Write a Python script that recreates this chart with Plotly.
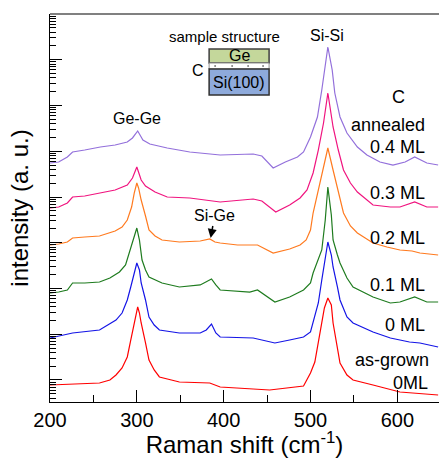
import numpy as np
import plotly.graph_objects as go

# ---- data (Raman shift in cm^-1, log10 of intensity in a.u.) ----
shift_04 = [200,210,220,226,240,258,275,289,295,301,305,307,315,335,361,396,434,444,457,471,485,492,500,508,513,517,520,525,528,534,542,554,565,580,595,609,620,634,647]
logI_04 = [4.743,4.765,4.874,4.984,5.027,5.093,5.137,5.202,5.290,5.443,5.311,5.246,5.158,5.071,4.984,4.918,4.940,4.896,4.634,4.765,4.874,4.984,5.311,5.749,6.339,6.842,7.279,6.776,6.273,5.749,5.399,5.093,4.918,4.765,4.699,4.765,4.874,4.743,4.699]

shift_03 = [200,210,220,226,240,258,275,289,295,300,305,310,321,335,361,396,434,444,460,476,488,496,503,509,515,520,526,532,538,546,554,572,592,603,620,634,647]
logI_03 = [3.760,3.781,3.869,4.000,4.022,4.087,4.153,4.262,4.415,4.656,4.372,4.240,4.109,4.000,3.978,3.891,3.956,3.913,3.672,3.825,3.978,4.153,4.525,5.027,5.617,6.273,5.530,5.027,4.590,4.306,4.109,3.825,3.781,3.781,3.891,3.781,3.781]

shift_02 = [200,210,220,226,240,257,275,283,289,294,297,300,302,305,310,314,321,329,349,373,384,390,396,416,439,457,476,488,495,500,503,509,515,520,526,532,538,546,554,572,588,603,617,626,637,647]
logI_02 = [2.951,2.973,3.016,3.104,3.126,3.148,3.257,3.344,3.497,3.781,4.087,4.306,4.197,3.934,3.585,3.279,3.148,3.060,3.016,3.038,3.082,3.016,2.995,2.951,2.951,2.776,2.863,2.951,3.060,3.279,3.650,4.153,4.656,5.071,4.590,4.109,3.650,3.366,3.213,2.995,2.907,2.842,2.820,2.776,2.754,2.732]

shift_01 = [200,210,220,226,240,257,269,280,287,291,295,300,303,306,310,314,329,349,373,380,386,391,396,430,439,459,476,492,500,503,509,513,517,520,524,526,531,534,542,549,572,592,603,620,634,647]
logI_01 = [1.902,1.923,1.967,2.120,2.120,2.142,2.230,2.361,2.514,2.776,3.016,3.322,3.060,2.623,2.404,2.251,2.120,2.033,2.077,2.142,2.208,2.077,1.967,1.923,1.967,1.705,1.814,1.967,2.120,2.339,2.623,2.842,3.497,4.219,3.607,3.060,2.732,2.557,2.230,2.033,1.814,1.683,1.705,1.814,1.705,1.705]

shift_00 = [200,226,257,276,283,289,293,297,300,303,305,310,314,320,326,349,373,380,386,391,396,434,459,476,492,500,503,509,513,517,520,524,526,531,534,542,549,572,592,614,626,647]
logI_00 = [0.918,1.027,1.093,1.311,1.464,1.749,2.033,2.339,2.557,2.404,2.120,1.749,1.377,1.202,1.093,1.027,1.027,1.093,1.224,1.027,0.940,0.918,0.809,0.874,0.940,1.049,1.246,1.683,2.186,2.623,3.016,2.732,2.470,2.033,1.749,1.377,1.246,1.049,0.918,0.831,0.809,0.721]

shift_ag = [200,257,269,276,283,289,293,297,301,303,305,310,314,320,326,349,373,384,396,453,492,500,505,511,516,520,524,526,530,534,542,549,572,603,647]
logI_ag = [-0.109,-0.066,0.000,0.109,0.262,0.503,0.874,1.246,1.596,1.464,1.246,0.809,0.437,0.219,0.066,-0.044,-0.066,-0.066,-0.153,-0.219,-0.131,0.153,0.393,1.027,1.574,1.792,1.639,1.246,0.765,0.372,0.109,0.000,-0.109,-0.262,-0.328]

series = [
    ("C annealed 0.4 ML", shift_04, logI_04, "#9370DB"),
    ("C annealed 0.3 ML", shift_03, logI_03, "#F0147F"),
    ("C annealed 0.2 ML", shift_02, logI_02, "#FF7A1F"),
    ("C annealed 0.1 ML", shift_01, logI_01, "#1E7B1E"),
    ("C annealed 0 ML", shift_00, logI_00, "#1414E6"),
    ("as-grown 0ML", shift_ag, logI_ag, "#FF0000"),
]

FONT = "Liberation Sans, Arial, sans-serif"

fig = go.Figure()
for name, xs, ls, col in series:
    fig.add_trace(go.Scatter(x=xs, y=10 ** np.array(ls), mode="lines", name=name,
                             line=dict(color=col, width=1.2), showlegend=False))

L, R, T, B = 49.8, 0, 14, 56
W, H = 439, 458
fig.update_layout(
    width=W, height=H, margin=dict(l=L, r=R, t=T, b=B, autoexpand=False),
    plot_bgcolor="white", paper_bgcolor="white",
    font=dict(family=FONT, color="black"),
)
fig.update_xaxes(
    range=[200, 648], tick0=200, dtick=100, ticks="inside", ticklen=12, tickwidth=1,
    tickcolor="black", showline=True, linecolor="black", linewidth=1, showgrid=False,
    zeroline=False, tickfont=dict(size=20, family=FONT),
    minor=dict(ticks="inside", dtick=50, ticklen=7, tickcolor="black", showgrid=False),
    title=dict(text="Raman shift (cm<sup>-1</sup>)", font=dict(size=24, family=FONT), standoff=4),
)
fig.update_yaxes(
    type="log", range=[-0.481, 8.0], dtick=1, ticks="inside", ticklen=12, tickwidth=1,
    tickcolor="black", showline=True, linecolor="black", linewidth=1, showgrid=False,
    showticklabels=False, zeroline=False,
    minor=dict(ticks="inside", dtick="D1", ticklen=6, tickcolor="black", showgrid=False),
    title=dict(text="intensity (a. u.)", font=dict(size=24, family=FONT), standoff=13),
)

pw = W - L - R
ph = H - T - B
def px(xp):
    return (xp - L) / pw
def py(yp):
    return (H - B - yp) / ph

# top frame line
fig.add_shape(type="line", xref="paper", yref="paper", x0=0, x1=1, y0=1, y1=1,
              line=dict(color="#808080", width=2))

# inset sample structure
fig.add_shape(type="rect", xref="paper", yref="paper", x0=px(209), x1=px(269), y0=py(63), y1=py(49),
              fillcolor="#C4D79B", line=dict(color="#404040", width=1.5))
fig.add_shape(type="rect", xref="paper", yref="paper", x0=px(209), x1=px(269), y0=py(69), y1=py(63),
              fillcolor="white", line=dict(color="#909090", width=1))
fig.add_shape(type="rect", xref="paper", yref="paper", x0=px(209), x1=px(269), y0=py(95), y1=py(69),
              fillcolor="#8EAADB", line=dict(color="#303030", width=1.5))
for dx in [215, 232, 248, 263]:
    fig.add_shape(type="circle", xref="paper", yref="paper", x0=px(dx - 1), x1=px(dx + 1),
                  y0=py(67), y1=py(65), fillcolor="#808080", line=dict(width=0))

def ann(text, xp, yp, size, xanchor="center"):
    fig.add_annotation(text=text, xref="paper", yref="paper", x=px(xp), y=py(yp),
                       xanchor=xanchor, yanchor="middle", showarrow=False,
                       font=dict(size=size, family=FONT, color="black"))

ann("sample structure", 224, 36, 15)
ann("Ge", 239, 56, 16)
ann("Si(100)", 239, 82, 16)
ann("C", 198, 70, 16)
ann("Si-Si", 327, 35, 16)
ann("Ge-Ge", 137, 118, 16)
ann("C", 398, 97, 18)
ann("annealed", 427, 125, 18, "right")
ann("0.4 ML", 427, 147, 18, "right")
ann("0.3 ML", 427, 193, 18, "right")
ann("0.2 ML", 427, 238, 18, "right")
ann("0.1 ML", 427, 285, 18, "right")
ann("0 ML", 427, 325, 18, "right")
ann("as-grown", 431, 360, 18, "right")
ann("0ML", 430, 383, 18, "right")

fig.add_annotation(text="Si-Ge", xref="x", yref="paper", x=385, y=py(238), ax=4, ay=-22,
                   showarrow=True, arrowhead=2, arrowsize=1.2, arrowwidth=1.5, arrowcolor="black",
                   font=dict(size=16, family=FONT, color="black"))

fig.write_html("out.html", config={"displayModeBar": False},
               post_script="document.body.style.margin='0';")
